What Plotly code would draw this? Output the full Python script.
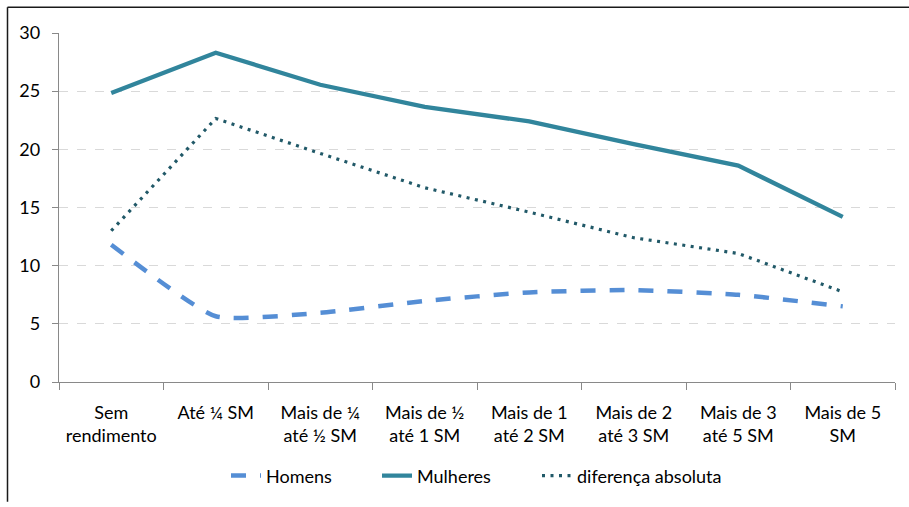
import plotly.graph_objects as go

categorias = [
    "Sem<br>rendimento", "Até ¼ SM", "Mais de ¼<br>até ½ SM", "Mais de ½<br>até 1 SM",
    "Mais de 1<br>até 2 SM", "Mais de 2<br>até 3 SM", "Mais de 3<br>até 5 SM", "Mais de 5<br>SM",
]
homens = [11.8, 5.65, 5.95, 6.97, 7.7, 7.9, 7.5, 6.5]
mulheres = [24.85, 28.3, 25.55, 23.65, 22.4, 20.45, 18.6, 14.2]
diferenca = [13.0, 22.65, 19.65, 16.7, 14.6, 12.4, 11.05, 7.75]

FONT = "Lato"
W, H = 909, 507
L, R, T, B = 59, 14, 33, 121
pw, ph = W - L - R, H - T - B

def px_x(x):
    return (x - L) / pw

def px_y(y):
    return (H - B - y) / ph

fig = go.Figure()
fig.add_trace(go.Scatter(
    x=categorias, y=homens, name="Homens", mode="lines", legend="legend",
    line=dict(color="#558ED5", width=4.5, dash="15px,14px", shape="spline", smoothing=0.5),
))
fig.add_trace(go.Scatter(
    x=categorias, y=mulheres, name="Mulheres", mode="lines", legend="legend2",
    line=dict(color="#31859C", width=4.3),
))
fig.add_trace(go.Scatter(
    x=categorias, y=diferenca, name="diferença absoluta", mode="lines", legend="legend3",
    line=dict(color="#215968", width=3.2, dash="3px,5.5px"),
))

# chart border (only left and top edges visible in the crop)
border = dict(color="#1a1a1a", width=1.5)
fig.add_shape(type="line", xref="paper", yref="paper",
              x0=px_x(7.5), x1=px_x(7.5), y0=px_y(507), y1=px_y(7), line=border)
fig.add_shape(type="line", xref="paper", yref="paper",
              x0=px_x(7.5), x1=px_x(909), y0=px_y(7), y1=px_y(7), line=border)

leg = dict(orientation="h", xanchor="left", y=px_y(481), yanchor="middle",
           font=dict(size=18), bgcolor="rgba(0,0,0,0)", itemwidth=30)

fig.update_layout(
    width=W, height=H,
    margin=dict(l=L, r=R, t=T, b=B),
    plot_bgcolor="white", paper_bgcolor="white",
    font=dict(family=FONT, size=18, color="#000000"),
    showlegend=True,
    legend=dict(leg, x=px_x(226)),
    legend2=dict(leg, x=px_x(377)),
    legend3=dict(leg, x=px_x(537)),
    xaxis=dict(
        range=[-0.5, 7.5], automargin=False,
        showline=True, linecolor="#898989", linewidth=1.3,
        ticks="outside", tickson="boundaries", ticklen=7, tickcolor="#898989",
        showgrid=False, tickfont=dict(size=18), ticklabelstandoff=14,
    ),
    yaxis=dict(
        range=[0, 30], dtick=5, showline=True, linecolor="#898989", linewidth=1.3,
        ticks="outside", ticklen=6, tickcolor="#898989", automargin=False,
        showgrid=True, gridcolor="#D9D9D9", griddash="dash", gridwidth=1,
        zeroline=False, tickfont=dict(size=18), ticklabelstandoff=8,
    ),
)

fig.write_html("out.html", config={"displayModeBar": False},
               post_script="document.body.style.margin='0';")
